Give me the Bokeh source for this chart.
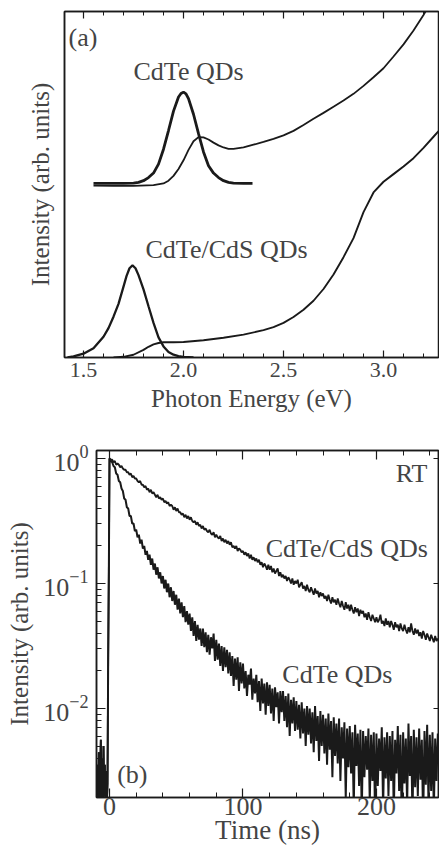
import numpy as np
from bokeh.plotting import figure
from bokeh.models import (Range1d, LinearAxis, LogAxis, Label, FixedTicker,
                          SingleIntervalTicker, LogTicker, NumeralTickFormatter)
from bokeh.embed import file_html
from bokeh.resources import INLINE

FONT = "Liberation Serif"
INK = "#1a1a1a"      # line colour (texts keep Bokeh's default colour)

# ---------------- panel (a): spectra (arb. units, offset curves) ----------------
pl_cdte_energy = [1.55, 1.60, 1.65, 1.70, 1.75, 1.775, 1.80, 1.825, 1.85, 1.875, 1.90,
                  1.925, 1.95, 1.975, 1.9875, 2.00, 2.0125, 2.025, 2.05, 2.075, 2.10,
                  2.125, 2.15, 2.175, 2.20, 2.225, 2.25, 2.30, 2.345]
pl_cdte_int = [0.503, 0.503, 0.503, 0.503, 0.504, 0.506, 0.511, 0.520, 0.533, 0.559, 0.602,
               0.656, 0.712, 0.753, 0.763, 0.767, 0.762, 0.748, 0.703, 0.647, 0.594,
               0.554, 0.533, 0.520, 0.511, 0.506, 0.504, 0.503, 0.503]

abs_cdte_energy = [1.55, 1.65, 1.75, 1.85, 1.90, 1.925, 1.95, 1.975, 2.00, 2.025, 2.05,
                   2.075, 2.10, 2.125, 2.15, 2.175, 2.20, 2.225, 2.25, 2.30, 2.35, 2.40,
                   2.45, 2.50, 2.55, 2.60, 2.65, 2.70, 2.75, 2.80, 2.85, 2.90, 2.95, 3.00,
                   3.05, 3.10, 3.15, 3.20, 3.25]
abs_cdte_int = [0.497, 0.496, 0.496, 0.498, 0.503, 0.511, 0.525, 0.545, 0.570, 0.600, 0.625,
                0.637, 0.636, 0.630, 0.621, 0.613, 0.607, 0.603, 0.603, 0.607, 0.615, 0.623,
                0.632, 0.642, 0.655, 0.672, 0.690, 0.707, 0.725, 0.743, 0.762, 0.785, 0.810,
                0.836, 0.870, 0.905, 0.945, 0.990, 1.040]

pl_cs_energy = [1.42, 1.45, 1.50, 1.55, 1.60, 1.625, 1.65, 1.675, 1.70, 1.715, 1.73, 1.745,
                1.76, 1.775, 1.80, 1.825, 1.85, 1.875, 1.90, 1.925, 1.95, 1.975, 2.00, 2.05]
pl_cs_int = [0.000, 0.003, 0.011, 0.027, 0.060, 0.085, 0.118, 0.155, 0.205, 0.235, 0.258, 0.266,
             0.258, 0.238, 0.197, 0.148, 0.100, 0.058, 0.032, 0.016, 0.008, 0.004, 0.002, 0.000]

abs_cs_energy = [1.65, 1.70, 1.75, 1.80, 1.825, 1.85, 1.875, 1.90, 1.95, 2.00, 2.10, 2.20,
                 2.30, 2.40, 2.45, 2.50, 2.55, 2.60, 2.65, 2.70, 2.75, 2.80, 2.85, 2.90,
                 2.95, 3.00, 3.05, 3.10, 3.15, 3.20, 3.25, 3.30]
abs_cs_int = [0.000, 0.002, 0.008, 0.022, 0.031, 0.038, 0.042, 0.044, 0.044, 0.045, 0.050, 0.057,
              0.066, 0.079, 0.088, 0.100, 0.117, 0.138, 0.164, 0.198, 0.240, 0.290, 0.345, 0.420,
              0.477, 0.508, 0.530, 0.552, 0.576, 0.606, 0.638, 0.670]

# ---------------- panel (b): PL decay (log10 of normalised intensity) ----------------
pre_t0, pre_dt = -9.5, 0.5          # ns, record before the excitation pulse
pre_zero_log = [-2.60, -2.45, -2.80, -2.35, -2.90, -2.50, -2.25, -2.75, -2.40, -2.85,
                -2.30, -2.70, -2.45, -2.90, -2.50, -2.75, -2.60, -1.60, -0.90]

main_t0, main_dt = 0.0, 1.0         # ns
cdte_cds_log = [
    0.00, -0.01, -0.01, -0.03, -0.02, -0.05, -0.04, -0.05, -0.07, -0.06,
    -0.08, -0.09, -0.09, -0.11, -0.11, -0.13, -0.12, -0.15, -0.14, -0.16,
    -0.16, -0.18, -0.19, -0.18, -0.21, -0.21, -0.23, -0.22, -0.25, -0.24,
    -0.27, -0.25, -0.28, -0.27, -0.29, -0.31, -0.29, -0.32, -0.31, -0.33,
    -0.32, -0.35, -0.34, -0.36, -0.35, -0.38, -0.37, -0.38, -0.41, -0.39,
    -0.42, -0.40, -0.43, -0.43, -0.45, -0.44, -0.47, -0.45, -0.48, -0.46,
    -0.49, -0.47, -0.50, -0.51, -0.50, -0.53, -0.51, -0.54, -0.53, -0.56,
    -0.54, -0.57, -0.56, -0.58, -0.59, -0.57, -0.60, -0.61, -0.59, -0.63,
    -0.61, -0.63, -0.64, -0.62, -0.66, -0.64, -0.67, -0.65, -0.68, -0.66,
    -0.69, -0.67, -0.71, -0.70, -0.72, -0.70, -0.74, -0.72, -0.73, -0.75,
    -0.74, -0.77, -0.75, -0.78, -0.76, -0.80, -0.77, -0.81, -0.79, -0.82,
    -0.80, -0.83, -0.81, -0.85, -0.83, -0.87, -0.84, -0.86, -0.89, -0.85,
    -0.89, -0.86, -0.91, -0.88, -0.92, -0.90, -0.88, -0.94, -0.91, -0.95,
    -0.93, -0.96, -0.94, -0.98, -0.95, -0.97, -1.00, -0.96, -1.01, -0.98,
    -1.00, -0.97, -1.03, -1.01, -0.99, -1.04, -1.02, -1.06, -1.01, -1.05,
    -1.07, -1.03, -1.06, -1.09, -1.04, -1.08, -1.06, -1.11, -1.07, -1.10,
    -1.08, -1.12, -1.10, -1.14, -1.09, -1.13, -1.16, -1.11, -1.15, -1.13,
    -1.17, -1.12, -1.16, -1.19, -1.14, -1.18, -1.21, -1.15, -1.20, -1.17,
    -1.22, -1.17, -1.21, -1.24, -1.19, -1.23, -1.20, -1.26, -1.21, -1.24,
    -1.22, -1.27, -1.24, -1.29, -1.23, -1.27, -1.30, -1.25, -1.28, -1.31,
    -1.27, -1.31, -1.29, -1.25, -1.32, -1.30, -1.34, -1.28, -1.33, -1.30,
    -1.35, -1.30, -1.33, -1.37, -1.31, -1.35, -1.33, -1.38, -1.32, -1.36,
    -1.38, -1.33, -1.37, -1.40, -1.35, -1.39, -1.32, -1.38, -1.41, -1.36,
    -1.40, -1.37, -1.42, -1.39, -1.44, -1.38, -1.41, -1.45, -1.40, -1.43,
    -1.46, -1.41, -1.44, -1.47, -1.42, -1.46, -1.44]

cdte_log = [
    0.00, -0.02, -0.03, -0.06, -0.07, -0.12, -0.13, -0.18, -0.19, -0.24,
    -0.26, -0.32, -0.33, -0.39, -0.40, -0.46, -0.46, -0.52, -0.52, -0.58,
    -0.57, -0.63, -0.61, -0.68, -0.65, -0.72, -0.70, -0.77, -0.74, -0.81,
    -0.77, -0.85, -0.80, -0.89, -0.84, -0.93, -0.87, -0.96, -0.91, -1.00,
    -0.94, -1.04, -0.97, -1.07, -1.00, -1.11, -1.03, -1.14, -1.06, -1.17,
    -1.09, -1.21, -1.12, -1.24, -1.15, -1.27, -1.18, -1.31, -1.22, -1.33,
    -1.24, -1.38, -1.27, -1.42, -1.30, -1.46, -1.33, -1.45, -1.36, -1.50,
    -1.36, -1.51, -1.39, -1.55, -1.41, -1.57, -1.43, -1.52, -1.40, -1.62,
    -1.45, -1.61, -1.48, -1.66, -1.50, -1.70, -1.51, -1.67, -1.53, -1.72,
    -1.55, -1.74, -1.58, -1.82, -1.60, -1.77, -1.59, -1.86, -1.63, -1.80,
    -1.64, -1.84, -1.70, -1.90, -1.73, -1.81, -1.68, -1.93, -1.76, -1.88,
    -1.73, -1.95, -1.78, -2.02, -1.76, -1.96, -1.80, -2.05, -1.79, -1.98,
    -1.81, -2.04, -1.84, -2.10, -1.83, -1.99, -1.87, -2.12, -1.86, -2.03,
    -1.86, -2.10, -1.90, -2.15, -1.88, -2.22, -1.93, -2.12, -1.91, -2.18,
    -1.94, -2.17, -1.97, -2.24, -1.95, -2.20, -2.00, -2.30, -1.98, -2.21,
    -2.00, -2.28, -2.03, -2.35, -1.98, -2.26, -2.06, -2.42, -2.02, -2.30,
    -2.05, -2.36, -2.08, -2.45, -2.04, -2.33, -2.10, -2.55, -2.07, -2.38,
    -2.12, -2.44, -2.08, -2.58, -2.15, -2.40, -2.11, -2.72, -2.16, -2.47,
    -2.14, -2.52, -2.19, -2.80, -2.13, -2.46, -2.20, -2.62, -2.17, -2.85,
    -2.18, -2.55, -2.22, -2.49, -2.16, -2.75, -2.21, -2.58, -2.19, -2.90,
    -2.20, -2.62, -2.24, -2.50, -2.15, -2.80, -2.23, -2.56, -2.19, -2.70,
    -2.22, -2.58, -2.18, -2.85, -2.25, -2.52, -2.14, -2.66, -2.21, -2.95,
    -2.19, -2.60, -2.24, -2.78, -2.12, -2.54, -2.22, -2.88, -2.17, -2.63,
    -2.23, -2.70, -2.16, -2.57, -2.25, -2.92, -2.18, -2.61, -2.13, -2.76,
    -2.21, -2.66, -2.19, -2.83, -2.24, -2.58, -2.20]


def style_axis(ax, major_in, minor_in, label_size, title_size):
    ax.axis_line_color = INK
    ax.axis_line_width = 1.5
    ax.major_tick_line_color = INK
    ax.minor_tick_line_color = INK
    ax.major_tick_line_width = 1.2
    ax.minor_tick_line_width = 1.0
    ax.major_tick_in = major_in
    ax.major_tick_out = 0
    ax.minor_tick_in = minor_in
    ax.minor_tick_out = 0
    ax.major_label_text_font = FONT
    ax.major_label_text_font_size = label_size
    ax.axis_label_text_font = FONT
    ax.axis_label_text_font_size = title_size
    ax.axis_label_text_font_style = "normal"


def bare_axis(ax, major_in, minor_in):
    # tick marks only: labels are kept tiny and fully transparent
    style_axis(ax, major_in, minor_in, "1px", "1px")
    ax.major_label_text_alpha = 0.0
    ax.major_label_standoff = 0


def add_label(p, x, y, text, size="26px"):
    p.add_layout(Label(x=x, y=y, text=text, text_font=FONT, text_font_size=size))


# ---------------- figure (a) ----------------
pa = figure(width=439, height=430, x_range=Range1d(1.405, 3.275), y_range=Range1d(0.0, 1.0),
            output_backend="svg", toolbar_location=None,
            min_border_left=64, min_border_right=1, min_border_top=11, min_border_bottom=73)
pa.grid.visible = False
pa.outline_line_color = INK
pa.outline_line_width = 1.5
pa.background_fill_color = "white"
pa.border_fill_color = "white"

xa_ticker = SingleIntervalTicker(interval=0.5, num_minor_ticks=5)
xa = pa.xaxis[0]
xa.ticker = xa_ticker
xa.formatter = NumeralTickFormatter(format="0.0")
xa.axis_label = "Photon Energy (eV)"
style_axis(xa, 7, 4, "22px", "25px")
xa.major_label_standoff = 5
xa.axis_label_standoff = 5

ya = pa.yaxis[0]
ya.ticker = FixedTicker(ticks=[])
ya.axis_label = "Intensity (arb. units)"
style_axis(ya, 0, 0, "1px", "25px")
ya.major_label_text_alpha = 0.0
ya.major_label_standoff = 0
ya.axis_label_standoff = 11

top_a = LinearAxis(ticker=xa_ticker)
bare_axis(top_a, 7, 4)
pa.add_layout(top_a, "above")

pa.line(abs_cdte_energy, abs_cdte_int, line_color=INK, line_width=1.8)
pa.line(pl_cdte_energy, pl_cdte_int, line_color=INK, line_width=2.8)
pa.line(abs_cs_energy, abs_cs_int, line_color=INK, line_width=1.9)
pa.line(pl_cs_energy, pl_cs_int, line_color=INK, line_width=2.3)

add_label(pa, 1.425, 0.883, "(a)")
add_label(pa, 1.75, 0.784, "CdTe QDs")
add_label(pa, 1.81, 0.269, "CdTe/CdS QDs")

# ---------------- figure (b) ----------------
pb = figure(width=439, height=429, x_range=Range1d(-9.75, 246.5),
            y_range=Range1d(0.00194, 1.159), y_axis_type="log",
            output_backend="svg", toolbar_location=None,
            min_border_left=96, min_border_right=1, min_border_top=20, min_border_bottom=62)
pb.grid.visible = False
pb.outline_line_color = INK
pb.outline_line_width = 1.5
pb.background_fill_color = "white"
pb.border_fill_color = "white"

xb_ticker = SingleIntervalTicker(interval=100, num_minor_ticks=5)
xb = pb.xaxis[0]
xb.ticker = xb_ticker
xb.axis_label = "Time (ns)"
style_axis(xb, 9, 5, "26px", "27px")
xb.major_label_standoff = 0
xb.axis_label_standoff = -3

yb = pb.yaxis[0]
yb.axis_label = "Intensity (arb. units)"
style_axis(yb, 9, 5, "26px", "25px")
yb.major_label_standoff = 8
yb.axis_label_standoff = 7

top_b = LinearAxis(ticker=xb_ticker)
bare_axis(top_b, 9, 5)
pb.add_layout(top_b, "above")

right_b = LogAxis(ticker=LogTicker())
bare_axis(right_b, 5, 0)
right_b.minor_tick_line_color = None
pb.add_layout(right_b, "right")

t_pre = pre_t0 + pre_dt * np.arange(len(pre_zero_log))
t_main = main_t0 + main_dt * np.arange(len(cdte_log))
t_all = np.concatenate([t_pre, t_main])
i_cdte = 10.0 ** np.concatenate([np.array(pre_zero_log), np.array(cdte_log)])
i_cs = 10.0 ** np.concatenate([np.array(pre_zero_log), np.array(cdte_cds_log)])

pb.line(t_all, i_cdte, line_color=INK, line_width=2.0)
pb.line(t_all, i_cs, line_color=INK, line_width=1.8)

add_label(pb, 214.5, 0.583, "RT")
add_label(pb, 117.0, 0.146, "CdTe/CdS QDs")
add_label(pb, 129.5, 0.01425, "CdTe QDs")
add_label(pb, 5.75, 0.002264, "(b)")

# two independent roots, stacked, so each frame keeps its own left margin
open("out.html", "w").write(file_html([pa, pb], INLINE))
